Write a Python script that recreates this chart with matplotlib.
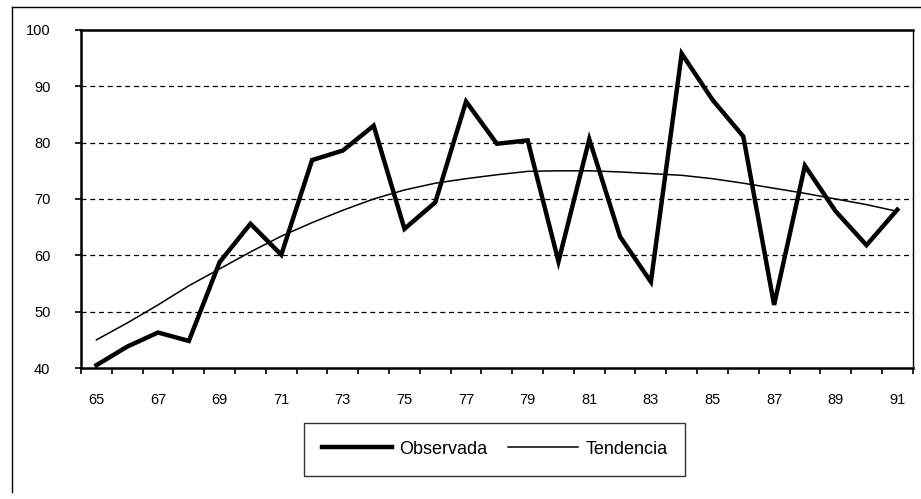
import matplotlib.pyplot as plt
from matplotlib.lines import Line2D
from matplotlib.ticker import FixedLocator, NullFormatter

plt.rcParams['font.family'] = ['Liberation Sans', 'DejaVu Sans']

years = list(range(65, 92))
observada = [40.5, 43.8, 46.3, 44.8, 58.8, 65.6, 60.1, 76.9, 78.6, 83.0,
             64.7, 69.4, 87.3, 79.8, 80.4, 58.9, 80.6, 63.3, 55.3, 95.8,
             87.6, 81.1, 51.2, 75.9, 67.8, 61.8, 68.1]
tendencia = [45.0, 48.0, 51.2, 54.6, 57.6, 60.6, 63.4, 65.8, 68.0, 70.0,
             71.6, 72.8, 73.6, 74.3, 74.9, 75.0, 75.0, 74.8, 74.5, 74.2,
             73.6, 72.8, 71.9, 71.0, 70.0, 69.0, 67.8]
y_ticks = [40, 50, 60, 70, 80, 90, 100]

fig = plt.figure(figsize=(9.21, 4.99), dpi=100)
ax = fig.add_axes([0.088, 0.2625, 0.903, 0.6775])

pos = list(range(len(years)))
ax.plot(pos, observada, color='black', lw=3.2, solid_joinstyle='miter', label='Observada')
ax.plot(pos, tendencia, color='black', lw=1.1, label='Tendencia')

ax.set_xlim(-0.5, len(years) - 0.5)
ax.set_ylim(40, 100)

# category axis: ticks on the boundaries, labels every other year at centres
ax.xaxis.set_major_locator(FixedLocator(pos[::2]))
ax.set_xticklabels([str(y) for y in years[::2]])
ax.xaxis.set_minor_locator(FixedLocator([p - 0.5 for p in pos] + [pos[-1] + 0.5]))
ax.xaxis.set_minor_formatter(NullFormatter())
ax.tick_params(axis='x', which='major', length=0, pad=18, labelsize=10.5)
ax.tick_params(axis='x', which='minor', length=4, width=1.2, direction='out')

ax.set_yticks(y_ticks)
ax.tick_params(axis='y', length=4, width=1.2, direction='out', pad=18, labelsize=10.5)

for yv in y_ticks[1:-1]:
    ax.axhline(yv, color='black', lw=0.9, ls=(0, (4, 3)), zorder=1)

for side in ['left', 'bottom', 'top']:
    ax.spines[side].set_linewidth(1.8)
ax.spines['right'].set_linewidth(1.0)

# outer chart frame (left and top edges are visible)
fig.add_artist(Line2D([0.013, 0.013], [0.986, 0.015], transform=fig.transFigure,
                      color='black', lw=1.0))
fig.add_artist(Line2D([0.013, 1.0], [0.986, 0.986], transform=fig.transFigure,
                      color='black', lw=1.0))

leg = fig.legend(loc='center', bbox_to_anchor=(0.537, 0.100), ncol=2,
                 fontsize=13, frameon=True, fancybox=False, edgecolor='black',
                 handlelength=3.9, columnspacing=1.1, handletextpad=0.4,
                 borderpad=1.0)
leg.get_frame().set_linewidth(1.0)

fig.savefig('out.png', dpi=100)
